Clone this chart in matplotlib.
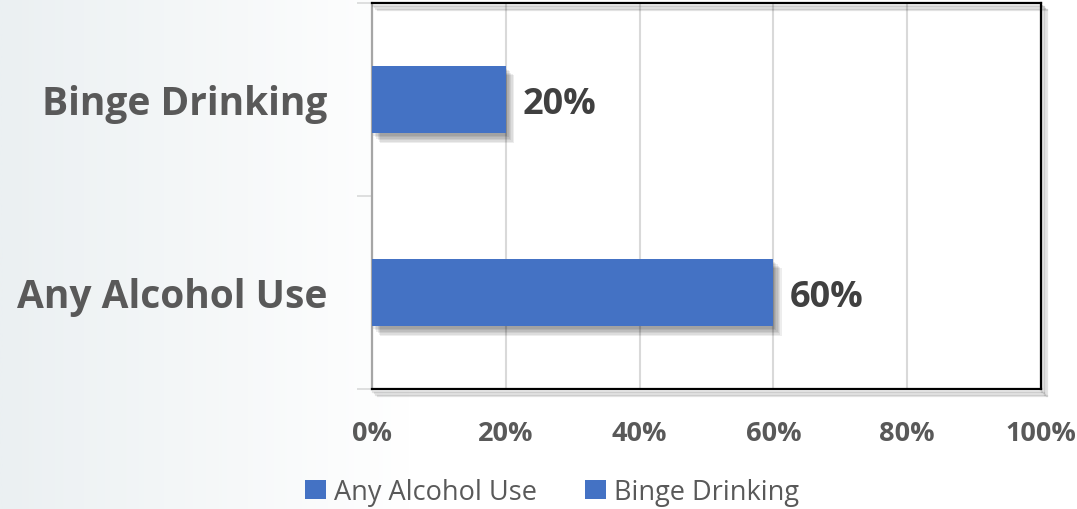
import numpy as np
import matplotlib.pyplot as plt
import matplotlib.patheffects as pe
from matplotlib.patches import Patch
from matplotlib.colors import LinearSegmentedColormap

plt.rcParams['font.family'] = ['Open Sans', 'DejaVu Sans']

categories = ["Any Alcohol Use", "Binge Drinking"]
values = [60, 20]
xticks = [0, 20, 40, 60, 80, 100]
xtick_labels = ["0%", "20%", "40%", "60%", "80%", "100%"]

BLUE = '#4472c4'
GREY = '#595959'
DARK = '#404040'

fig = plt.figure(figsize=(10.77, 5.1), dpi=100)

# soft background gradient on the left side
bg = fig.add_axes([0, 0, 1, 1], zorder=-10)
grad = np.linspace(0, 1, 512).reshape(1, -1)
cmap = LinearSegmentedColormap.from_list('bg', [(0, '#ebf0f2'), (0.38, '#ffffff'), (1, '#ffffff')])
bg.imshow(grad, aspect='auto', cmap=cmap, extent=[0, 1, 0, 1])
bg.axis('off')

ax = fig.add_axes([372/1077, 1 - 390/510, 669/1077, 386/510])
ax.set_facecolor('white')

# stacked faint shadows give a soft drop shadow
shadow = [pe.SimplePatchShadow(offset=(dx, -dx - 1), shadow_rgbFace='black', alpha=0.07)
          for dx in (1, 2, 3, 4, 5, 6)] + [pe.Normal()]
for i, (cat, val) in enumerate(zip(categories, values)):
    ax.barh(i, val, height=0.35, color=BLUE, label=cat, zorder=3, path_effects=shadow)
    ax.text(val + 2.5, i - 0.025, f"{val}%", va='center', ha='left', fontsize=26,
            fontweight='bold', color=DARK, zorder=4)

ax.set_xlim(0, 100)
ax.set_ylim(-0.5, 1.5)
ax.set_xticks(xticks)
ax.set_xticklabels(xtick_labels, fontsize=19.5, fontweight='bold', color=GREY)
ax.tick_params(axis='x', length=0, pad=22)
ax.xaxis.grid(True, color='#d9d9d9', lw=1.5, zorder=0)
ax.set_axisbelow(True)

# category ticks sit on band edges, labels sit in band centres
ax.set_yticks([-0.5, 0.5, 1.5])
ax.set_yticklabels([])
ax.tick_params(axis='y', which='major', length=11, width=1.2, color='#d9d9d9')
ax.set_yticks([0, 1], minor=True)
ax.set_yticklabels(categories, minor=True, fontsize=28, fontweight='bold', color=GREY)
ax.tick_params(axis='y', which='minor', length=0, pad=32)

frame_shadow = [pe.SimpleLineShadow(offset=(d, -d - 1), shadow_color='black', alpha=0.1)
                for d in (1, 2, 3, 4)] + [pe.Normal()]
for side in ['top', 'right', 'bottom']:
    ax.spines[side].set_color('black')
    ax.spines[side].set_linewidth(1.6)
    ax.spines[side].set_path_effects(frame_shadow)
ax.spines['left'].set_color('#a6a6a6')
ax.spines['left'].set_linewidth(1.6)

handles = [Patch(facecolor=BLUE, label=c) for c in categories]
fig.legend(handles=handles, loc='center', bbox_to_anchor=(552/1077, 1 - 493/510), ncol=2,
           frameon=False, fontsize=19.5, labelcolor=GREY, handlelength=0.75, handleheight=0.75,
           handletextpad=0.3, columnspacing=1.8)

fig.savefig('out.png', dpi=100)
